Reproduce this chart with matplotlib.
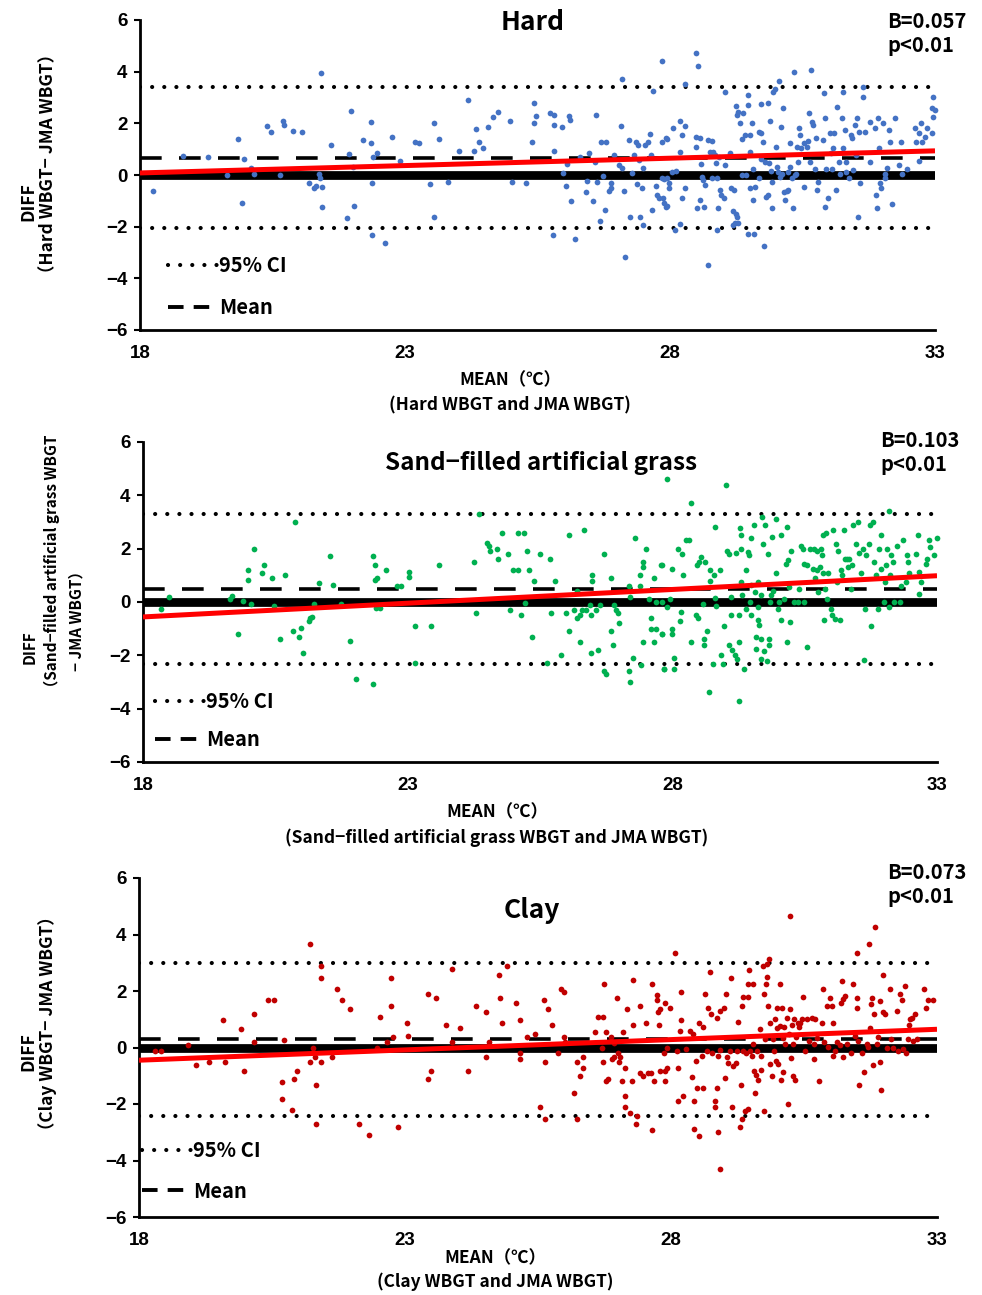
import numpy as np
import matplotlib
matplotlib.use("Agg")
import matplotlib.pyplot as plt
from matplotlib.lines import Line2D

plt.rcParams['font.family'] = ['Noto Sans CJK JP', 'DejaVu Sans']

# ---- Hard surface: x = mean of the two WBGT, y = difference ----
hard_mean = [
    18.24, 18.82, 19.29, 19.64, 19.84, 19.92, 19.96, 20.09, 20.16, 20.39,
    20.47, 20.64, 20.69, 20.72, 20.89, 21.06, 21.18, 21.29, 21.33, 21.38,
    21.40, 21.41, 21.43, 21.44, 21.61, 21.91, 21.94, 21.98, 22.01, 22.04,
    22.21, 22.36, 22.36, 22.38, 22.38, 22.39, 22.47, 22.63, 22.76, 22.91,
    23.19, 23.26, 23.47, 23.54, 23.54, 23.64, 23.81, 24.01, 24.19, 24.31,
    24.34, 24.39, 24.47, 24.56, 24.66, 24.76, 24.99, 25.01, 25.29, 25.39,
    25.43, 25.44, 25.48, 25.73, 25.79, 25.81, 25.81, 25.81, 25.96, 25.99,
    26.04, 26.06, 26.09, 26.12, 26.14, 26.21, 26.31, 26.42, 26.44, 26.47,
    26.54, 26.59, 26.61, 26.62, 26.67, 26.69, 26.73, 26.77, 26.79, 26.84,
    26.88, 26.88, 26.94, 27.03, 27.08, 27.09, 27.10, 27.14, 27.16, 27.22,
    27.24, 27.29, 27.32, 27.35, 27.37, 27.40, 27.41, 27.43, 27.48, 27.49,
    27.49, 27.52, 27.59, 27.63, 27.64, 27.66, 27.67, 27.74, 27.75, 27.80,
    27.84, 27.84, 27.88, 27.89, 27.94, 27.94, 28.49, 28.53, 28.28, 27.92,
    27.84, 27.94, 27.98, 27.99, 27.87, 27.92, 28.03, 28.11, 28.06, 28.19,
    28.22, 28.28, 28.19, 28.22, 28.28, 28.09, 28.19, 28.49, 28.57, 28.49,
    28.58, 28.60, 28.63, 28.66, 28.57, 28.50, 28.64, 28.72, 28.80, 28.75,
    28.82, 28.85, 28.87, 28.93, 28.79, 28.88, 28.91, 28.94, 28.97, 29.01,
    28.89, 28.72, 29.04, 29.04, 29.14, 29.16, 29.20, 29.18, 29.25, 29.27,
    29.18, 29.23, 29.29, 29.25, 29.27, 29.29, 29.33, 29.35, 29.35, 29.37,
    29.41, 29.43, 29.48, 29.48, 29.50, 29.50, 29.51, 29.48, 29.59, 29.54,
    29.56, 29.57, 29.60, 29.67, 29.68, 29.71, 29.72, 29.72, 29.76, 29.77,
    29.79, 29.81, 29.84, 29.84, 29.87, 29.89, 29.91, 29.92, 29.92, 29.95,
    29.98, 30.00, 30.02, 30.04, 30.06, 30.08, 30.09, 30.11, 30.14, 30.15,
    30.17, 30.20, 30.22, 30.23, 30.26, 30.26, 30.30, 30.33, 30.34, 30.36,
    30.38, 30.39, 30.41, 30.44, 30.45, 30.48, 30.52, 30.53, 30.58, 30.61,
    30.63, 30.64, 30.66, 30.67, 30.69, 30.73, 30.75, 30.77, 30.80, 30.89,
    30.91, 30.92, 30.92, 30.94, 30.99, 31.02, 31.03, 31.05, 31.07, 31.09,
    31.13, 31.16, 31.18, 31.21, 31.24, 31.26, 31.27, 31.30, 31.32, 31.33,
    31.38, 31.41, 31.43, 31.46, 31.49, 31.51, 31.53, 31.54, 31.57, 31.58,
    31.64, 31.65, 31.67, 31.77, 31.77, 31.87, 31.89, 31.91, 31.93, 31.95,
    31.97, 31.99, 32.02, 32.06, 32.06, 32.09, 32.14, 32.16, 32.19, 32.24,
    32.33, 32.35, 32.37, 32.47, 32.62, 32.65, 32.69, 32.70, 32.73, 32.75,
    32.81, 32.84, 32.94, 32.94, 32.97, 32.97, 33.00]
hard_diff = [
    -0.61, 0.72, 0.68, 0.00, 1.39, -1.07, 0.62, 0.28, 0.03, 1.90,
    1.65, 0.00, 2.09, 1.94, 1.69, 1.65, -0.31, -0.52, -0.41, 0.03,
    -0.13, 3.96, -0.46, -1.23, 1.15, -1.65, 0.80, 2.49, 0.32, -1.20,
    1.34, 2.06, 1.25, -0.31, -2.32, 0.68, 0.85, -2.62, 1.46, 0.55,
    1.29, 1.25, -0.36, 2.00, -1.61, 1.38, -0.26, 0.94, 2.89, 0.94,
    1.78, 1.29, 1.03, 1.85, 2.25, 2.45, 2.09, -0.26, -0.32, 1.29,
    2.00, 2.80, 2.30, 2.41, -2.32, 2.34, 1.94, 0.93, 1.85, 0.08,
    -0.41, 0.41, 2.30, 2.13, -1.01, -2.48, 0.71, -0.67, -0.22, 0.84,
    -1.01, 0.49, 2.34, -0.26, -1.77, 1.29, -0.03, -1.35, 1.29, -0.62,
    -0.31, -0.52, 0.77, 0.37, 1.90, 3.70, 0.27, -0.61, -3.17, 1.34,
    -1.63, 0.08, 0.76, 1.26, -0.36, 1.16, 0.57, -1.63, -0.52, -1.94,
    0.28, 1.15, 1.29, 1.59, 0.77, -1.35, 3.24, -0.41, -0.77, -0.88,
    4.40, 1.26, -0.17, -1.10, 1.39, -1.19, 4.71, 4.21, 3.52, 1.42,
    -0.13, -0.13, -0.32, -0.52, -0.90, -1.23, 0.13, 0.15, 1.83, 2.09,
    1.55, 1.90, 0.90, -0.88, -0.52, -2.13, -1.91, 1.48, 1.45, 1.10,
    0.41, -0.06, -0.19, -0.39, -0.97, -1.26, -1.23, 1.35, 1.32, 0.90,
    0.90, 0.77, 0.45, 0.71, -0.13, -0.13, -1.26, -0.58, -0.77, -0.88,
    -2.13, -3.48, 3.23, 0.39, 0.84, -0.52, -0.58, -1.39, -1.52, -1.61,
    -1.94, -1.87, -1.87, 2.68, 2.32, 2.45, 2.00, 1.39, 0.00, 2.39,
    1.55, 0.00, 3.10, 2.71, 0.90, -0.52, 1.55, -2.30, -2.30, 2.00,
    -0.97, 0.23, -0.45, -0.13, 1.68, 2.74, 1.61, 0.62, 1.29, -2.74,
    0.52, -0.84, -0.77, 2.80, 0.45, 2.09, 0.15, -0.26, -1.26, 3.23,
    3.33, 1.10, 0.32, 0.13, 3.64, -0.06, 1.87, 0.03, 2.61, -0.65,
    -0.97, -0.62, 0.13, -0.58, 1.23, 0.32, -0.10, -1.26, 4.00, 0.00,
    0.03, 1.10, 0.52, 1.83, 1.55, 1.03, -0.45, 1.23, 1.10, 1.32,
    2.39, 0.52, 4.06, 2.04, 1.94, 0.23, 1.45, -0.58, -0.26, 1.35,
    3.16, 2.19, -1.23, 0.23, -0.88, 1.61, 0.84, 0.23, 1.06, 1.61,
    -0.58, 2.65, 0.52, 0.03, 2.22, 3.23, 1.03, 1.74, 0.52, 0.13,
    -0.13, 1.55, 1.42, 0.19, 1.94, 0.77, 2.19, -1.61, 1.65, -0.32,
    3.03, 3.42, 1.68, 2.04, 0.52, 1.81, -0.77, -1.26, 2.19, 1.03,
    -0.32, -0.52, 2.00, 0.03, -0.13, 0.28, 1.74, 1.26, -1.14, 2.22,
    0.39, 1.26, 0.03, 0.23, 1.81, 1.29, 1.61, 0.54, 2.00, 1.29,
    1.48, 1.81, 1.61, 2.58, 3.03, 2.26, 2.52]

# ---- Sand-filled artificial grass ----
sand_mean = [
    18.34, 18.49, 19.64, 19.68, 19.79, 19.89, 19.98, 19.98, 20.04, 20.09,
    20.24, 20.28, 20.44, 20.48, 20.58, 20.69, 20.84, 20.88, 20.94, 20.99,
    21.02, 21.13, 21.16, 21.20, 21.23, 21.33, 21.54, 21.58, 21.74, 21.92,
    22.03, 22.34, 22.34, 22.38, 22.38, 22.42, 22.40, 22.47, 22.59, 22.80,
    22.88, 23.02, 23.02, 23.14, 23.44, 23.14, 23.60, 24.25, 24.30, 24.35,
    24.50, 24.53, 24.55, 24.69, 24.70, 24.79, 24.89, 24.94, 24.99, 25.08,
    25.09, 25.14, 25.20, 25.21, 25.25, 25.30, 25.35, 25.38, 25.50, 25.64,
    25.69, 25.70, 25.79, 25.90, 25.99, 26.05, 26.05, 26.14, 26.19, 26.20,
    26.25, 26.25, 26.30, 26.34, 26.37, 26.44, 26.46, 26.46, 26.49, 26.49,
    26.56, 26.59, 26.64, 26.70, 26.71, 26.75, 26.85, 26.85, 26.88, 26.90,
    26.93, 26.97, 27.00, 27.19, 27.20, 27.19, 27.20, 27.25, 27.30, 27.39,
    27.39, 27.40, 27.45, 27.45, 27.45, 27.50, 27.55, 27.59, 27.60, 27.65,
    27.65, 27.70, 27.70, 27.79, 27.80, 27.85, 27.89, 27.90, 27.96, 27.81,
    27.81, 27.81, 27.84, 28.00, 28.00, 28.00, 28.04, 28.04, 28.11, 28.15,
    28.17, 28.19, 28.21, 28.25, 28.32, 28.35, 28.35, 28.44, 28.46, 28.49,
    28.50, 28.55, 28.57, 28.59, 28.59, 28.61, 28.65, 28.69, 28.72, 28.72,
    28.76, 28.78, 28.80, 28.80, 28.82, 28.90, 28.91, 28.95, 28.98, 29.01,
    29.04, 29.07, 29.07, 29.10, 29.10, 29.13, 29.18, 29.20, 29.22, 29.26,
    29.26, 29.26, 29.28, 29.29, 29.29, 29.30, 29.32, 29.36, 29.39, 29.40,
    29.43, 29.45, 29.47, 29.48, 29.49, 29.49, 29.54, 29.56, 29.58, 29.59,
    29.61, 29.61, 29.62, 29.64, 29.67, 29.67, 29.68, 29.70, 29.72, 29.73,
    29.76, 29.78, 29.80, 29.83, 29.83, 29.85, 29.86, 29.89, 29.91, 29.95,
    29.95, 30.00, 30.02, 30.06, 30.06, 30.11, 30.14, 30.16, 30.17, 30.19,
    30.21, 30.22, 30.25, 30.30, 30.38, 30.39, 30.43, 30.46, 30.48, 30.49,
    30.55, 30.55, 30.60, 30.65, 30.68, 30.69, 30.73, 30.74, 30.75, 30.79,
    30.80, 30.82, 30.84, 30.85, 30.87, 30.88, 30.90, 30.93, 30.94, 30.99,
    31.01, 31.04, 31.07, 31.09, 31.11, 31.13, 31.17, 31.18, 31.21, 31.25,
    31.26, 31.30, 31.32, 31.34, 31.37, 31.40, 31.42, 31.47, 31.51, 31.53,
    31.56, 31.61, 31.62, 31.64, 31.66, 31.72, 31.74, 31.75, 31.80, 31.81,
    31.84, 31.88, 31.91, 31.94, 31.95, 31.99, 32.01, 32.03, 32.06, 32.10,
    32.10, 32.12, 32.14, 32.16, 32.19, 32.25, 32.30, 32.32, 32.35, 32.41,
    32.44, 32.46, 32.47, 32.60, 32.64, 32.66, 32.66, 32.69, 32.79, 32.82,
    32.85, 32.87, 32.95, 33.00]
sand_diff = [
    -0.28, 0.20, 0.13, 0.23, -1.19, 0.03, 1.19, 0.81, -0.08, 2.00,
    1.10, 1.40, 0.90, -0.16, -1.38, 1.03, -1.10, 3.00, -1.30, -0.98,
    -1.90, -0.70, -0.60, -0.56, -0.06, 0.71, 1.71, 0.63, -0.08, -1.48,
    -2.88, 1.73, -3.09, 1.40, 0.81, 0.90, -0.21, -0.21, 1.21, 0.60,
    0.60, 1.13, 0.94, -0.90, -0.90, -2.30, 1.40, 1.50, -0.40, 3.30,
    2.21, 2.09, 1.90, 2.00, 1.60, 2.60, 1.80, -0.30, 1.20, 2.60,
    1.20, -0.50, 2.60, -0.05, 1.90, 1.20, -1.30, 0.80, 1.80, -2.30,
    1.60, -0.40, 0.80, -2.00, -0.40, -1.10, 2.50, -0.30, -0.60, 0.40,
    -0.50, -1.50, -0.30, 2.70, -0.30, -0.10, -1.90, -0.50, 1.00, 0.80,
    -0.30, -1.80, -0.10, 1.80, -2.60, -2.70, 0.90, -1.10, -1.60, -0.10,
    -0.30, -0.40, -0.80, 0.60, 0.20, -2.60, -3.00, -2.10, 2.40, 1.00,
    0.60, -2.38, 1.50, 1.30, -1.50, 2.00, 0.10, -0.60, -1.00, 0.90,
    -1.50, -1.00, 0.00, 1.40, -1.20, -2.50, 4.63, -0.20, 0.10, 1.37,
    0.00, -1.19, -2.50, 1.25, -1.00, -1.19, -2.10, -2.50, 2.00, -0.70,
    -0.38, 1.81, 1.00, 2.31, 2.31, 3.70, -1.50, -0.50, 1.37, -0.60,
    1.50, 1.69, -0.06, -1.40, -1.60, 1.50, -1.10, -3.38, 1.19, 0.78,
    -2.31, 1.00, 2.81, 0.15, -0.15, 1.19, -2.00, -2.31, -0.90, 4.40,
    1.90, 1.81, -1.60, 0.19, -0.50, -1.81, -2.00, 1.85, -2.13, -0.50,
    -1.50, -3.70, 2.78, 2.50, 2.00, 0.75, 0.28, -2.50, -0.25, 1.19,
    1.88, 1.75, 0.00, 0.63, 2.40, -0.50, 2.90, 0.38, -1.31, -1.75,
    -0.69, -0.19, 0.75, -0.88, -1.40, 0.25, -2.13, 3.19, 2.19, -1.85,
    2.90, -2.23, 1.81, -1.40, -1.60, 0.00, 0.25, 2.44, 0.40, 3.10,
    1.10, -0.25, 0.00, 2.50, -0.69, 0.13, 1.44, -1.50, 2.81, 1.56,
    0.56, -0.75, 1.90, 0.00, 0.00, 0.50, 2.10, 2.00, 0.00, 1.44,
    -1.69, 1.40, 2.00, 1.25, 2.00, 0.90, 1.90, 1.19, 0.38, 1.31,
    2.00, 1.75, 1.10, 2.50, -0.69, 0.50, 2.60, 0.13, 1.10, -0.25,
    -0.50, 2.69, -0.65, 2.19, 0.75, 1.90, -0.69, 1.19, 1.00, 2.69,
    1.60, 1.60, 1.31, 1.60, 0.50, 1.40, 2.90, 2.19, 3.00, 1.85,
    1.10, 2.00, -2.19, -0.25, 1.75, 2.19, 2.90, -0.90, 3.00, 1.50,
    1.00, -0.28, 2.00, 2.50, 1.25, 0.00, 0.75, 1.40, 2.00, 3.40,
    -0.19, 1.00, 1.75, 1.50, 0.00, 2.10, 0.00, 0.60, 2.31, 0.75,
    1.75, 1.50, 1.10, 1.81, 2.50, 1.13, 0.31, 0.75, 1.44, 1.60,
    2.31, 2.06, 1.75, 2.40]

# ---- Clay ----
clay_mean = [
    18.31, 18.42, 18.92, 19.08, 19.32, 19.58, 19.62, 19.92, 19.97, 20.17,
    20.17, 20.43, 20.53, 20.68, 20.68, 20.72, 20.87, 20.92, 20.97, 21.22,
    21.22, 21.27, 21.31, 21.32, 21.32, 21.43, 21.43, 21.43, 21.62, 21.72,
    21.82, 21.97, 22.13, 22.33, 22.48, 22.53, 22.67, 22.73, 22.73, 22.78,
    22.87, 23.03, 23.06, 23.43, 23.43, 23.48, 23.58, 23.78, 23.88, 23.89,
    24.03, 24.19, 24.33, 24.53, 24.53, 24.58, 24.77, 24.78, 24.83, 24.92,
    25.09, 25.17, 25.17, 25.17, 25.29, 25.44, 25.54, 25.62, 25.63, 25.64,
    25.68, 25.77, 25.88, 25.93, 25.98, 25.98, 26.00, 26.18, 26.23, 26.24,
    26.29, 26.34, 26.34, 26.58, 26.63, 26.70, 26.73, 26.73, 26.74, 26.78,
    26.78, 26.82, 26.87, 26.89, 26.92, 26.93, 26.98, 27.01, 27.03, 27.05,
    27.07, 27.09, 27.14, 27.14, 27.14, 27.18, 27.23, 27.27, 27.28, 27.28,
    27.34, 27.37, 27.42, 27.42, 27.48, 27.53, 27.57, 27.62, 27.64, 27.64,
    27.68, 27.73, 27.73, 27.76, 27.78, 27.79, 27.79, 27.86, 27.89, 27.89,
    27.92, 27.93, 27.89, 27.98, 28.08, 28.11, 28.14, 28.14, 28.17, 28.18,
    28.18, 28.23, 28.29, 28.36, 28.39, 28.42, 28.43, 28.43, 28.47, 28.48,
    28.53, 28.53, 28.58, 28.60, 28.61, 28.64, 28.67, 28.70, 28.73, 28.76,
    28.78, 28.83, 28.83, 28.86, 28.87, 28.89, 28.89, 28.92, 28.93, 28.93,
    28.99, 29.02, 29.04, 29.05, 29.08, 29.11, 29.13, 29.14, 29.17, 29.22,
    29.24, 29.25, 29.29, 29.31, 29.33, 29.33, 29.35, 29.36, 29.39, 29.41,
    29.44, 29.44, 29.45, 29.47, 29.49, 29.52, 29.55, 29.55, 29.56, 29.58,
    29.60, 29.61, 29.64, 29.67, 29.69, 29.70, 29.72, 29.74, 29.75, 29.77,
    29.79, 29.80, 29.81, 29.83, 29.85, 29.86, 29.87, 29.89, 29.91, 29.94,
    29.96, 29.97, 29.99, 30.00, 30.02, 30.04, 30.05, 30.06, 30.08, 30.10,
    30.11, 30.13, 30.14, 30.18, 30.19, 30.21, 30.23, 30.24, 30.25, 30.27,
    30.29, 30.30, 30.31, 30.33, 30.35, 30.38, 30.41, 30.43, 30.46, 30.49,
    30.52, 30.55, 30.60, 30.65, 30.68, 30.69, 30.71, 30.74, 30.79, 30.83,
    30.85, 30.88, 30.93, 30.96, 30.99, 31.02, 31.04, 31.05, 31.09, 31.12,
    31.17, 31.19, 31.21, 31.23, 31.24, 31.27, 31.30, 31.38, 31.42, 31.46,
    31.49, 31.49, 31.50, 31.52, 31.54, 31.59, 31.63, 31.68, 31.71, 31.73,
    31.74, 31.76, 31.77, 31.79, 31.81, 31.84, 31.87, 31.90, 31.93, 31.93,
    31.94, 31.98, 31.99, 32.03, 32.06, 32.12, 32.13, 32.18, 32.24, 32.26,
    32.30, 32.34, 32.37, 32.40, 32.42, 32.45, 32.48, 32.50, 32.53, 32.55,
    32.59, 32.62, 32.75, 32.80, 32.84, 32.93]
clay_diff = [
    -0.12, -0.12, 0.09, -0.61, -0.52, 0.98, -0.52, 0.67, -0.82, 1.18,
    0.18, 1.68, 1.68, -1.21, -1.81, 0.27, -2.20, -1.12, -0.82, 3.67,
    -0.52, -0.02, -0.33, -1.32, -2.71, 2.87, 2.47, -0.52, -0.33, 2.08,
    1.68, 1.38, -2.71, -3.11, -0.02, 1.08, 0.18, 2.47, 1.47, 0.38,
    -2.80, 0.88, 0.39, 1.88, -1.12, -0.82, 1.76, 0.78, 2.78, 0.18,
    0.68, -0.82, 1.47, 1.27, -0.32, 0.18, 2.56, 1.76, 0.88, 2.87,
    1.56, 0.98, -0.21, -0.42, 0.38, 0.47, -2.12, 1.67, -0.52, -2.52,
    1.38, 0.78, -0.21, 2.07, 1.96, 0.38, 0.18, -1.61, -0.52, -2.52,
    -1.01, -0.32, -0.71, 0.56, 1.08, -0.02, 1.08, -0.53, 2.26, 0.56,
    -1.20, -1.12, 0.38, -0.42, 0.16, -0.32, 1.76, -0.21, -0.52, -0.32,
    -1.20, 0.56, -0.71, -1.73, -2.12, 1.38, -2.32, -1.20, 2.38, 0.78,
    -2.71, -2.41, 1.47, -0.92, -1.00, 0.88, -0.92, -0.92, 2.26, -2.91,
    -1.20, 1.86, 1.67, 1.27, 0.78, 1.38, -0.82, -0.21, 1.56, -1.20,
    -0.71, -0.02, -0.82, 1.41, 3.35, -0.12, -0.71, -1.88, 0.59, 0.96,
    1.98, -1.71, -0.06, 0.59, -1.04, 0.47, -1.91, -2.88, -0.47, -1.44,
    0.88, -3.12, -0.29, -1.44, 0.71, 1.88, -0.12, 1.41, 2.68, 1.18,
    -0.18, -1.88, -2.09, 1.06, -1.44, -3.00, -0.29, -4.29, -0.09, 1.29,
    1.39, -1.08, 1.88, -0.35, -0.56, -0.12, 2.47, -2.12, -0.65, -0.56,
    -0.12, 0.92, -2.82, -1.32, 1.47, -2.53, -0.12, 1.79, -2.26, -0.21,
    2.26, -2.18, 1.79, 2.76, -0.12, -0.29, 2.26, 0.12, -0.82, -1.62,
    -0.96, -0.12, -1.15, 0.65, -0.29, -0.80, 2.88, 1.88, -2.26, 0.29,
    2.26, 2.94, 2.49, 1.47, 3.15, 0.88, -0.59, -1.00, 0.29, -0.12,
    1.00, -0.47, 1.39, 0.68, -0.59, 2.26, 0.76, -1.15, 1.39, 0.35,
    -0.88, 0.71, 0.12, 1.06, -2.00, 0.47, 4.65, 1.35, -0.38, 0.80,
    -1.00, 0.12, 1.00, -1.15, 0.38, 0.88, 0.71, 0.88, 1.00, 1.79,
    -0.12, 1.00, 0.24, 1.06, 0.12, -0.41, 1.00, 0.35, -1.20, 0.88,
    2.06, 0.21, 1.47, 0.02, 1.76, 1.47, 0.88, -0.29, -0.12, 0.21,
    0.09, 1.59, 2.35, 1.71, -0.35, 1.82, 0.12, -0.21, 2.26, 0.41,
    3.35, 1.76, 1.39, 0.24, -1.32, -0.21, -0.88, 0.12, 0.02, 3.67,
    0.68, 1.53, 1.76, -0.61, 1.18, 4.26, 0.12, 0.38, 1.65, -0.53,
    -1.51, 1.27, 2.56, 1.20, 0.00, 2.06, 0.29, 0.00, 1.29, -0.12,
    1.88, 1.67, -0.06, 2.18, -0.21, 0.29, 0.80, 1.00, 1.06, 0.24,
    1.18, 0.29, 2.06, 1.39, 1.67, 1.67]

# summary lines
bias = [0.67, 0.50, 0.29]
upper_loa = [3.42, 3.30, 2.99]
lower_loa = [-2.06, -2.33, -2.41]
slope_B = [0.057, 0.103, 0.073]
fit_at_18 = [0.08, -0.56, -0.45]

titles = ["Hard", "Sand\u2212filled artificial grass", "Clay"]
dot_colors = ["#4472C4", "#00B050", "#C00000"]
means = [hard_mean, sand_mean, clay_mean]
diffs = [hard_diff, sand_diff, clay_diff]
xticks = [18, 23, 28, 33]
yticks = [-6, -4, -2, 0, 2, 4, 6]

W, H = 982, 1295
fig = plt.figure(figsize=(W / 100, H / 100), dpi=100)

def fx(px):
    return px / W

def fy(py):
    return 1 - py / H

# axes boxes in pixels: left, top, right, bottom
boxes = [(140, 20, 935, 330), (143, 442, 937, 762), (139, 878, 937, 1217)]
title_pos = [(533, 22), (541, 463), (532, 910)]
stat_pos = [(887, 11), (880, 430), (887, 862)]
xlab_pos = [(510, 380, 405), (497, 812, 838), (495, 1258, 1282)]
xlab2 = ["(Hard WBGT and JMA WBGT)",
         "(Sand\u2212filled artificial grass WBGT and JMA WBGT)",
         "(Clay WBGT and JMA WBGT)"]
ylab_lines = [
    [("DIFF", 28, 202), ("\uff08Hard WBGT\u2212 JMA WBGT\uff09", 48, 163)],
    [("DIFF", 30, 647), ("\uff08Sand\u2212filled artificial grass WBGT", 52, 565),
     ("\u2212 JMA WBGT\uff09", 76, 617)],
    [("DIFF", 28, 1052), ("\uff08Clay WBGT\u2212 JMA WBGT\uff09", 48, 1023)],
]
ylab_size = [12.5, 11, 12.5]
legend_anchor = [(0.02, 0.0), (0.0, 0.0), (-0.012, 0.01)]
legend_spacing = [1.05, 0.85, 0.95]

dot_style = (0, (0.01, 2.9))
tick_font = dict(family=['Liberation Sans', 'DejaVu Sans'], weight='bold', size=13.5)

for i in range(3):
    l, t, r, b = boxes[i]
    ax = fig.add_axes([fx(l), fy(b), (r - l) / W, (b - t) / H])
    ax.set_xlim(18, 33)
    ax.set_ylim(-6, 6)

    ax.axhline(upper_loa[i], color='black', lw=3.0, ls=dot_style,
               dash_capstyle='round', zorder=1)
    ax.axhline(lower_loa[i], color='black', lw=3.0, ls=dot_style,
               dash_capstyle='round', zorder=1)
    ax.axhline(bias[i], color='black', lw=2.6, ls=(0, (6, 4.8)), zorder=1)
    ax.axhline(0, color='black', lw=6.3, zorder=2)

    ax.scatter(means[i], diffs[i], s=17, color=dot_colors[i], linewidths=0,
               zorder=3, clip_on=False)

    xs = np.array([18.0, 33.0])
    ax.plot(xs, fit_at_18[i] + slope_B[i] * (xs - 18), color='#FF0000',
            lw=3.6, solid_capstyle='butt', zorder=4)

    for s in ['top', 'right']:
        ax.spines[s].set_visible(False)
    for s in ['left', 'bottom']:
        ax.spines[s].set_linewidth(2.0)
        ax.spines[s].set_color('black')
    ax.set_xticks(xticks)
    ax.set_yticks(yticks)
    ax.set_yticklabels([f"{v}".replace('-', '\u2212') for v in yticks], **tick_font)
    ax.set_xticklabels([str(v) for v in xticks], **tick_font)
    ax.tick_params(axis='x', length=0, pad=11)
    ax.tick_params(axis='y', length=4, width=1.5, direction='out', pad=5)

    handles = [Line2D([], [], color='black', lw=3.0, ls=dot_style,
                      dash_capstyle='round'),
               Line2D([], [], color='black', lw=2.8, ls=(0, (4.0, 2.6)))]
    ax.legend(handles, ["95% CI", "Mean"], loc='lower left',
              bbox_to_anchor=legend_anchor[i], frameon=False, handlelength=2.5,
              handletextpad=0.05, labelspacing=legend_spacing[i], borderaxespad=0.2,
              prop=dict(family=['Noto Sans CJK JP', 'DejaVu Sans'],
                        weight='bold', size=14.5))

    tx, ty = title_pos[i]
    fig.text(fx(tx), fy(ty), titles[i], ha='center', va='center',
             fontsize=19 if i != 1 else 17.5, fontweight='bold')
    sx, sy = stat_pos[i]
    fig.text(fx(sx), fy(sy), f"B={slope_B[i]:.3f}\np<0.01", ha='left', va='top',
             fontsize=14.5, fontweight='bold', linespacing=1.2)

    cx, y1, y2 = xlab_pos[i]
    fig.text(fx(cx), fy(y1), "MEAN\uff08\u2103\uff09", ha='center', va='center',
             fontsize=12.5, fontweight='bold')
    fig.text(fx(cx), fy(y2), xlab2[i], ha='center', va='center',
             fontsize=12.5, fontweight='bold')
    for txt, lx, ly in ylab_lines[i]:
        fig.text(fx(lx), fy(ly), txt, ha='center', va='center', rotation=90,
                 fontsize=ylab_size[i], fontweight='bold')

fig.savefig("out.png", dpi=100)
